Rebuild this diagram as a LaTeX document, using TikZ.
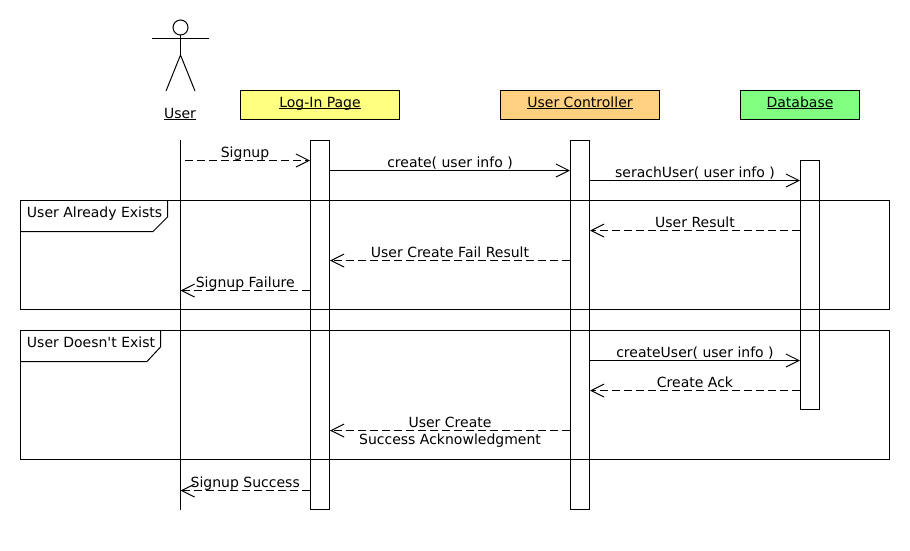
\documentclass[tikz,border=0pt]{standalone}
\usepackage{fontspec}
\setmainfont{DejaVu Sans}
\usetikzlibrary{arrows.meta}
\definecolor{loginfill}{HTML}{FFFF80}
\definecolor{controllerfill}{HTML}{FFD080}
\definecolor{databasefill}{HTML}{80FF80}
\newcommand{\ulname}[1]{\underline{\smash{#1}}}
\newcommand{\straightquote}{\XeTeXglyph\XeTeXcharglyph"27\relax}
\tikzset{
  head/.style={draw, line width=1pt, minimum height=29pt, text height=9pt, text depth=5pt},
  bar/.style={draw, fill=white, line width=1pt, minimum width=19pt, anchor=north},
  msg/.style={line width=1pt, -{Straight Barb[length=13pt, width=13pt, line width=1pt]}},
  reply/.style={msg, dash pattern=on 8pt off 4pt},
  lbl/.style={anchor=base, inner sep=0pt, yshift=3pt},
  frametext/.style={anchor=base west, inner sep=0pt},
}
\begin{document}
\begin{tikzpicture}[x=1pt, y=-1pt, line width=1pt, font=\fontsize{14}{16}\selectfont]
  \useasboundingbox (0, 0) rectangle (910, 550);

  % actor
  \draw (180.5, 27.5) circle (7.5);
  \draw (152, 38.5) -- (209, 38.5);
  \draw (180.5, 35) -- (180.5, 55);
  \draw (166, 91) -- (180.5, 55) -- (195, 91);
  \node[inner sep=0pt, anchor=base] (user) at (180, 118) {\ulname{User}};

  % heads
  \node[head, fill=loginfill, minimum width=159pt] (login) at (320, 105) {\ulname{Log-In Page}};
  \node[head, fill=controllerfill, minimum width=159pt] (controller) at (580, 105) {\ulname{User Controller}};
  \node[head, fill=databasefill, minimum width=119pt] (database) at (800, 105) {\ulname{Database}};

  % lifeline and bars
  \coordinate (usertop) at (180.5, 140);
  \coordinate (userend) at (180.5, 510);
  \draw (usertop) -- (userend);
  \node[bar, minimum height=369pt] (loginbar) at (320, 140) {};
  \node[bar, minimum height=369pt] (controllerbar) at (580, 140) {};
  \node[bar, minimum height=249pt] (databasebar) at (810, 160) {};

  % rows
  \coordinate (signupstart) at (185, 160.5);
  \coordinate (rowcreate) at (0, 170.5);
  \coordinate (rowsearch) at (0, 180.5);
  \coordinate (rowresult) at (0, 230.5);
  \coordinate (rowfail) at (0, 260.5);
  \coordinate (rowfailure) at (0, 290.5);
  \coordinate (rowcreateuser) at (0, 360.5);
  \coordinate (rowack) at (0, 390.5);
  \coordinate (rowsuccess) at (0, 430.5);
  \coordinate (rowdone) at (0, 490.5);

  % messages
  \draw[reply] (signupstart) -- (loginbar.west |- signupstart);
  \node[lbl] (signuplbl) at (245, 160) {Signup};
  \draw[msg] (loginbar.east |- rowcreate) -- node[lbl] (createlbl) {create( user info )} (controllerbar.west |- rowcreate);
  \draw[msg] (controllerbar.east |- rowsearch) -- node[lbl] (searchlbl) {serachUser( user info )} (databasebar.west |- rowsearch);
  \draw[reply] (databasebar.west |- rowresult) -- node[lbl] (resultlbl) {User Result} (controllerbar.east |- rowresult);
  \draw[reply] (controllerbar.west |- rowfail) -- node[lbl] (faillbl) {User Create Fail Result} (loginbar.east |- rowfail);
  \draw[reply] (loginbar.west |- rowfailure) -- node[lbl] (failurelbl) {Signup Failure} (usertop |- rowfailure);
  \draw[msg] (controllerbar.east |- rowcreateuser) -- node[lbl] (createuserlbl) {createUser( user info )} (databasebar.west |- rowcreateuser);
  \draw[reply] (databasebar.west |- rowack) -- node[lbl] (acklbl) {Create Ack} (controllerbar.east |- rowack);
  \draw[reply] (controllerbar.west |- rowsuccess) -- (loginbar.east |- rowsuccess);
  \node[lbl] (successlbla) at (450, 430) {User Create};
  \node[lbl] (successlblb) at (450, 447) {Success Acknowledgment};
  \draw[reply] (loginbar.west |- rowdone) -- node[lbl] (donelbl) {Signup Success} (usertop |- rowdone);

  % frames
  \draw (20.5, 200.5) rectangle (889.5, 309.5);
  \draw (20.5, 231.5) -- (153, 231.5) -- (167.5, 217) -- (167.5, 200.5);
  \node[frametext] (existslbl) at (26.5, 217) {User Already Exists};
  \draw (20.5, 330.5) rectangle (889.5, 459.5);
  \draw (20.5, 361.5) -- (147, 361.5) -- (160.5, 347) -- (160.5, 330.5);
  \node[frametext] (noexistlbl) at (26.5, 347) {User Doesn\straightquote t Exist};
\end{tikzpicture}
\end{document}
